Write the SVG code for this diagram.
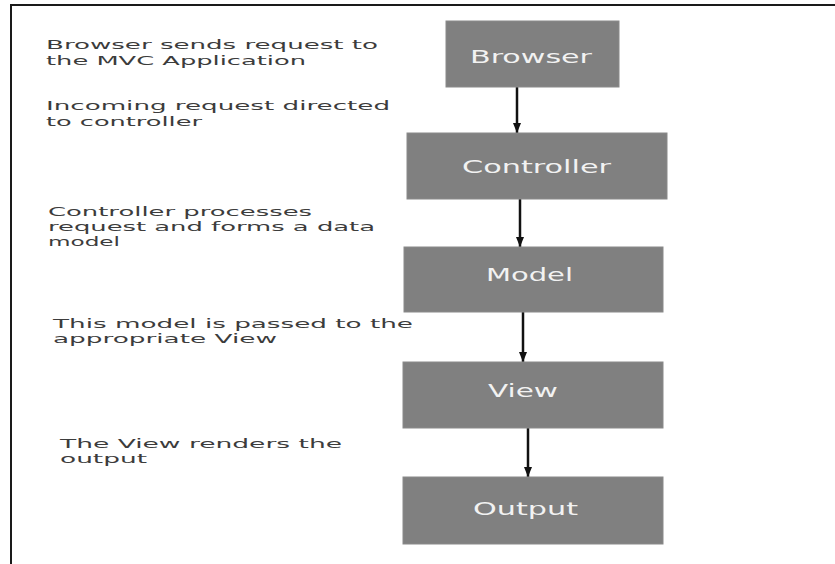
<svg xmlns="http://www.w3.org/2000/svg" width="835" height="564" viewBox="0 0 835 564">
  <style>
    .box { fill: #808080; stroke: #8a8a8a; stroke-width: 1; }
    .label { font-family: "DejaVu Sans", Verdana, sans-serif; font-size: 18px; fill: #f2f2f2; }
    .note { font-family: "DejaVu Sans", Verdana, sans-serif; font-size: 13px; fill: #3c3c3c; }
    .edge { stroke: #111111; stroke-width: 2.5; fill: none; marker-end: url(#head); }
  </style>
  <defs>
    <marker id="head" viewBox="0 0 10 8" refX="10" refY="4" markerWidth="4" markerHeight="3.2" orient="auto" markerUnits="strokeWidth">
      <path d="M0,0 L10,4 L0,8 Z" fill="#111111"/>
    </marker>
  </defs>

  <rect width="835" height="564" fill="#ffffff"/>

  <!-- frame -->
  <path d="M11,564 V5 H835" stroke="#1a1a1a" stroke-width="2" fill="none"/>

  <!-- step notes -->
  <g id="notes">
    <text class="note" x="46" y="49" textLength="332" lengthAdjust="spacingAndGlyphs">Browser sends request to</text>
    <text class="note" x="46" y="65" textLength="260" lengthAdjust="spacingAndGlyphs">the MVC Application</text>
    <text class="note" x="46" y="110" textLength="344" lengthAdjust="spacingAndGlyphs">Incoming request directed</text>
    <text class="note" x="46" y="126" textLength="156" lengthAdjust="spacingAndGlyphs">to controller</text>
    <text class="note" x="48" y="216" textLength="264" lengthAdjust="spacingAndGlyphs">Controller processes</text>
    <text class="note" x="48" y="231" textLength="327" lengthAdjust="spacingAndGlyphs">request and forms a data</text>
    <text class="note" x="48" y="246" textLength="72" lengthAdjust="spacingAndGlyphs">model</text>
    <text class="note" x="53" y="328" textLength="360" lengthAdjust="spacingAndGlyphs">This model is passed to the</text>
    <text class="note" x="53" y="343" textLength="224" lengthAdjust="spacingAndGlyphs">appropriate View</text>
    <text class="note" x="60" y="448" textLength="282" lengthAdjust="spacingAndGlyphs">The View renders the</text>
    <text class="note" x="60" y="463" textLength="87" lengthAdjust="spacingAndGlyphs">output</text>
  </g>

  <!-- connectors -->
  <g id="connectors">
    <line class="edge" x1="517" y1="87" x2="517" y2="133"/>
    <line class="edge" x1="520" y1="199" x2="520" y2="247"/>
    <line class="edge" x1="523" y1="312" x2="523" y2="362"/>
    <line class="edge" x1="528" y1="428" x2="528" y2="477"/>
  </g>

  <!-- nodes -->
  <g id="browser">
    <rect class="box" x="446" y="21" width="173" height="66"/>
    <text class="label" x="470" y="63" textLength="122" lengthAdjust="spacingAndGlyphs">Browser</text>
  </g>
  <g id="controller">
    <rect class="box" x="407" y="133" width="260" height="66"/>
    <text class="label" x="462" y="173" textLength="149" lengthAdjust="spacingAndGlyphs">Controller</text>
  </g>
  <g id="model">
    <rect class="box" x="404" y="247" width="259" height="65"/>
    <text class="label" x="486" y="281" textLength="87" lengthAdjust="spacingAndGlyphs">Model</text>
  </g>
  <g id="view">
    <rect class="box" x="403" y="362" width="260" height="66"/>
    <text class="label" x="488" y="397" textLength="70" lengthAdjust="spacingAndGlyphs">View</text>
  </g>
  <g id="output">
    <rect class="box" x="403" y="477" width="260" height="67"/>
    <text class="label" x="473" y="515" textLength="105" lengthAdjust="spacingAndGlyphs">Output</text>
  </g>
</svg>
